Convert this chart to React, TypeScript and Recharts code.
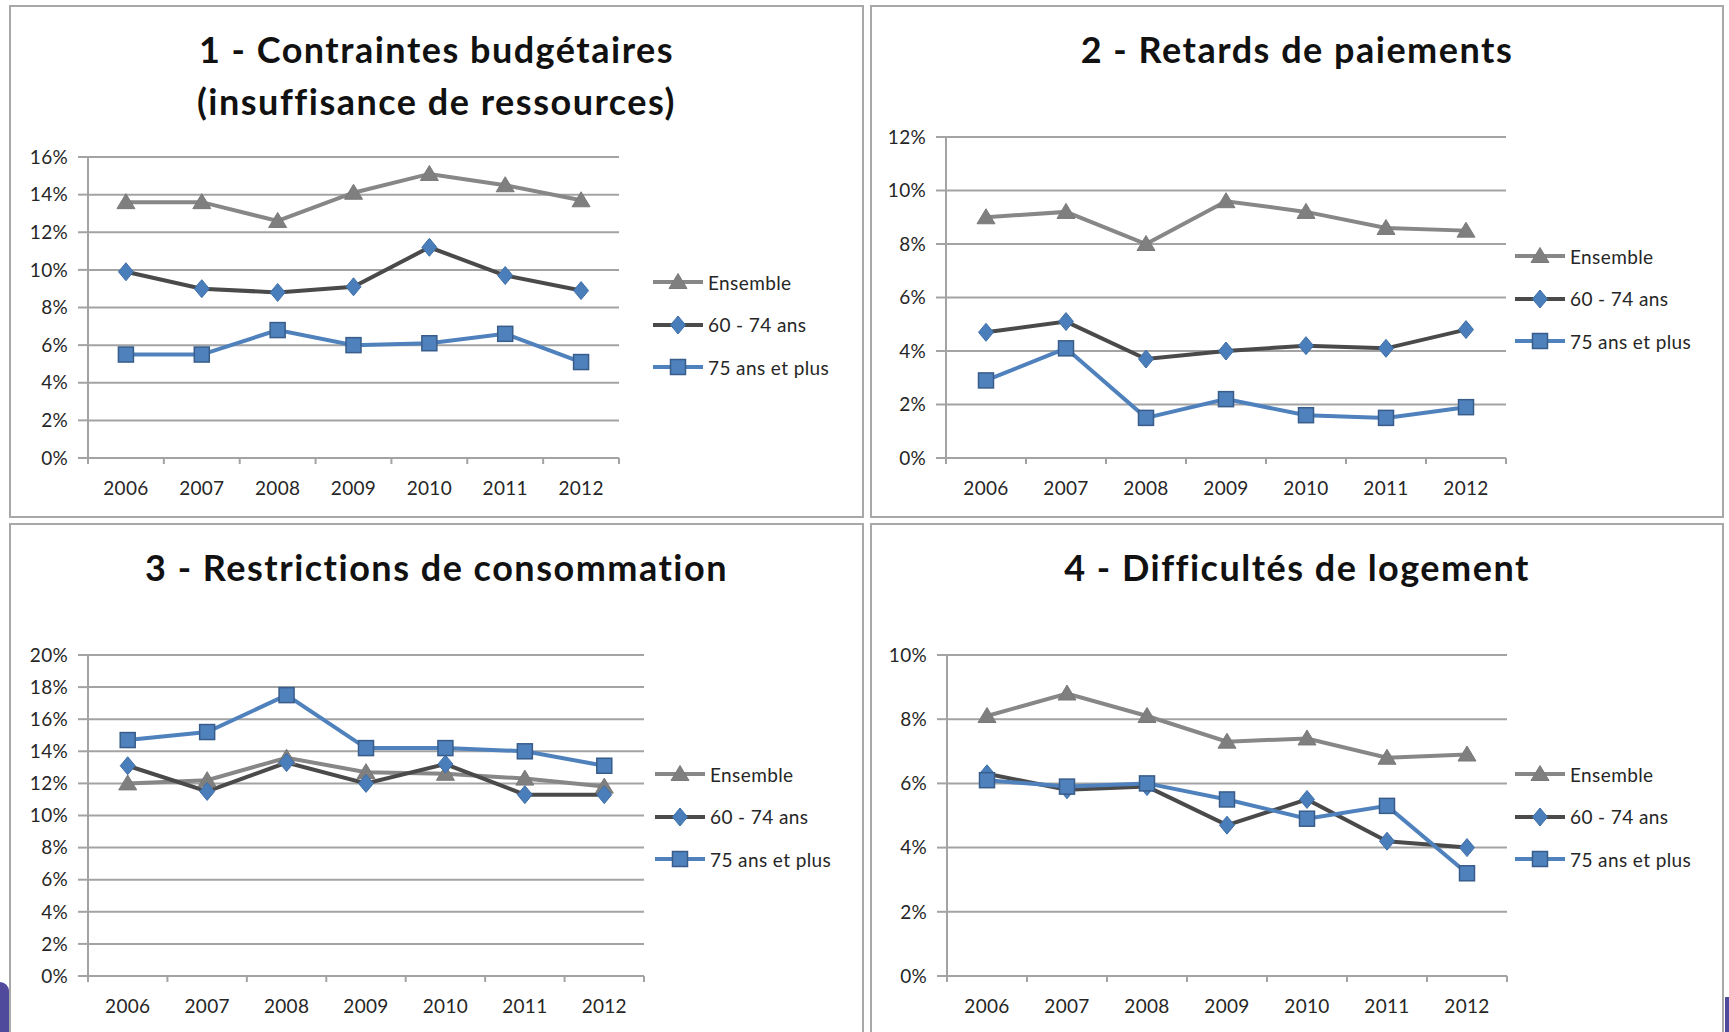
import React from 'react'
import { CartesianGrid, Legend, Line, LineChart, XAxis, YAxis } from 'recharts'

const years = ['2006', '2007', '2008', '2009', '2010', '2011', '2012']

// 1 - Contraintes budgétaires
const budgetEnsemble = [13.6, 13.6, 12.6, 14.1, 15.1, 14.5, 13.7]
const budget6074 = [9.9, 9.0, 8.8, 9.1, 11.2, 9.7, 8.9]
const budget75 = [5.5, 5.5, 6.8, 6.0, 6.1, 6.6, 5.1]
const budgetTicks = [0, 2, 4, 6, 8, 10, 12, 14, 16]

// 2 - Retards de paiements
const retardsEnsemble = [9.0, 9.2, 8.0, 9.6, 9.2, 8.6, 8.5]
const retards6074 = [4.7, 5.1, 3.7, 4.0, 4.2, 4.1, 4.8]
const retards75 = [2.9, 4.1, 1.5, 2.2, 1.6, 1.5, 1.9]
const retardsTicks = [0, 2, 4, 6, 8, 10, 12]

// 3 - Restrictions de consommation
const conso6074 = [13.1, 11.5, 13.3, 12.0, 13.2, 11.3, 11.3]
const consoEnsemble = [12.0, 12.2, 13.6, 12.7, 12.6, 12.3, 11.8]
const conso75 = [14.7, 15.2, 17.5, 14.2, 14.2, 14.0, 13.1]
const consoTicks = [0, 2, 4, 6, 8, 10, 12, 14, 16, 18, 20]

// 4 - Difficultés de logement
const logementEnsemble = [8.1, 8.8, 8.1, 7.3, 7.4, 6.8, 6.9]
const logement6074 = [6.3, 5.8, 5.9, 4.7, 5.5, 4.2, 4.0]
const logement75 = [6.1, 5.9, 6.0, 5.5, 4.9, 5.3, 3.2]
const logementTicks = [0, 2, 4, 6, 8, 10]

const edges = [-0.5, 0.5, 1.5, 2.5, 3.5, 4.5, 5.5, 6.5]

const GRID = '#a3a3a3'
const TEXT = '#262626'

type Shape = 'tri' | 'dia' | 'sq'

const SERIES: { key: 'ens' | 'a' | 'b'; name: string; color: string; shape: Shape }[] = [
  { key: 'ens', name: 'Ensemble', color: '#878787', shape: 'tri' },
  { key: 'a', name: '60 - 74 ans', color: '#4a4a4a', shape: 'dia' },
  { key: 'b', name: '75 ans et plus', color: '#4f81bd', shape: 'sq' },
]

function Marker({ shape, cx, cy }: { shape: Shape; cx: number; cy: number }) {
  if (cx == null || cy == null) return null
  if (shape === 'tri') {
    return (
      <polygon
        points={`${cx},${cy - 8.5} ${cx - 9},${cy + 6.5} ${cx + 9},${cy + 6.5}`}
        fill="#7f7f7f"
        stroke="#7a7a7a"
        strokeWidth={1}
      />
    )
  }
  if (shape === 'dia') {
    return (
      <polygon
        points={`${cx},${cy - 9} ${cx + 7.5},${cy} ${cx},${cy + 9} ${cx - 7.5},${cy}`}
        fill="#4a7ebb"
        stroke="#3f6fa8"
        strokeWidth={1}
      />
    )
  }
  return (
    <rect x={cx - 7.5} y={cy - 7.5} width={15} height={15} fill="#4f81bd" stroke="#385d8a" strokeWidth={1.5} />
  )
}

function LegendBox() {
  return (
    <div style={{ fontSize: 19, color: TEXT, lineHeight: 1, letterSpacing: 0.4 }}>
      {SERIES.map((s) => (
        <div key={s.key} style={{ display: 'flex', alignItems: 'center', height: 42.5 }}>
          <svg width={52} height={20}>
            <line x1={0} y1={10} x2={50} y2={10} stroke={s.color} strokeWidth={4} />
            <Marker shape={s.shape} cx={25} cy={10} />
          </svg>
          <span style={{ marginLeft: 3, whiteSpace: 'nowrap' }}>{s.name}</span>
        </div>
      ))}
    </div>
  )
}

function YearTick(props: any) {
  const { x, y, payload, half } = props
  const i = payload.value + 0.5
  if (i < 0 || i >= years.length) return null
  return (
    <text x={x + half} y={y} dy="0.71em" textAnchor="middle" fontSize={19} fill={TEXT} letterSpacing={0.3}>
      {years[i]}
    </text>
  )
}

type Panel = {
  title: string[]
  box: [number, number, number, number]
  titleTop: number
  plot: [number, number, number, number]
  ticks: number[]
  ens: number[]
  a: number[]
  b: number[]
  legend: [number, number]
}

const panels: Panel[] = [
  {
    title: ['1 - Contraintes budgétaires', '(insuffisance de ressources)'],
    box: [9, 5, 864, 518],
    titleTop: 23,
    plot: [88, 157, 619, 458],
    ticks: budgetTicks,
    ens: budgetEnsemble,
    a: budget6074,
    b: budget75,
    legend: [653, 282],
  },
  {
    title: ['2 - Retards de paiements'],
    box: [870, 5, 1724, 518],
    titleTop: 23,
    plot: [946, 137, 1506, 458],
    ticks: retardsTicks,
    ens: retardsEnsemble,
    a: retards6074,
    b: retards75,
    legend: [1515, 256],
  },
  {
    title: ['3 - Restrictions de consommation'],
    box: [9, 523, 864, 1060],
    titleTop: 541,
    plot: [88, 655, 644, 976],
    ticks: consoTicks,
    ens: consoEnsemble,
    a: conso6074,
    b: conso75,
    legend: [655, 774],
  },
  {
    title: ['4 - Difficultés de logement'],
    box: [870, 523, 1724, 1060],
    titleTop: 541,
    plot: [947, 655, 1507, 976],
    ticks: logementTicks,
    ens: logementEnsemble,
    a: logement6074,
    b: logement75,
    legend: [1515, 774],
  },
]

function ChartPanel({ p }: { p: Panel }) {
  const [L, T, R, B] = p.plot
  const left = L - 70
  const top = T - 20
  const data = years.map((y, i) => ({ x: i, year: y, ens: p.ens[i], a: p.a[i], b: p.b[i] }))
  const half = (R - L) / 14
  const max = p.ticks[p.ticks.length - 1]
  const [bx, by, br, bb] = p.box

  return (
    <>
      <div
        style={{
          position: 'absolute',
          left: bx,
          top: by,
          width: br - bx,
          height: bb - by,
          border: '2px solid #a8a8a8',
          boxSizing: 'border-box',
        }}
      />
      <div
        style={{
          position: 'absolute',
          left: bx,
          top: p.titleTop,
          width: br - bx,
          textAlign: 'center',
          fontSize: 36,
          fontWeight: 700,
          letterSpacing: 1.5,
          lineHeight: '52px',
          color: '#111',
        }}
      >
        {p.title.map((t) => (
          <div key={t}>{t}</div>
        ))}
      </div>
      <div style={{ position: 'absolute', left, top }}>
        <LineChart
          width={R - L + 80}
          height={B - T + 70}
          data={data}
          margin={{ top: 20, right: 10, bottom: 0, left: 10 }}
        >
          <CartesianGrid vertical={false} stroke={GRID} strokeWidth={2} />
          <XAxis
            type="number"
            dataKey="x"
            domain={[-0.5, 6.5]}
            ticks={edges}
            interval={0}
            height={50}
            tickSize={6}
            tickMargin={18}
            axisLine={{ stroke: GRID, strokeWidth: 2 }}
            tickLine={{ stroke: GRID, strokeWidth: 2 }}
            tick={<YearTick half={half} />}
          />
          <YAxis
            type="number"
            domain={[0, max]}
            ticks={p.ticks}
            interval={0}
            width={60}
            tickSize={10}
            tickMargin={10}
            axisLine={{ stroke: GRID, strokeWidth: 2 }}
            tickLine={{ stroke: GRID, strokeWidth: 2 }}
            tick={{ fontSize: 19, fill: TEXT, letterSpacing: 0.3 }}
            tickFormatter={(v: number) => `${v}%`}
          />
          {SERIES.map((s) => (
            <Line
              key={s.key}
              dataKey={s.key}
              name={s.name}
              stroke={s.color}
              strokeWidth={4}
              isAnimationActive={false}
              activeDot={false}
              dot={(d: any) => <Marker key={`${s.key}-${d.index}`} shape={s.shape} cx={d.cx} cy={d.cy} />}
            />
          ))}
          <Legend
            layout="vertical"
            align="center"
            verticalAlign="middle"
            content={() => <LegendBox />}
            wrapperStyle={{ left: p.legend[0] - left, top: p.legend[1] - top - 21.25, width: 240 }}
          />
        </LineChart>
      </div>
    </>
  )
}

export default function App() {
  return (
    <div
      style={{
        position: 'absolute',
        left: 0,
        top: 0,
        width: 1729,
        height: 1032,
        overflow: 'hidden',
        background: '#fff',
        fontFamily: 'Lato, "Open Sans", sans-serif',
      }}
    >
      {panels.map((p) => (
        <ChartPanel key={p.title[0]} p={p} />
      ))}
      <div
        style={{
          position: 'absolute',
          left: 0,
          top: 982,
          width: 9,
          height: 60,
          background: '#4f4a9b',
          borderTopRightRadius: 12,
        }}
      />
      <div
        style={{
          position: 'absolute',
          left: 1725,
          top: 997,
          width: 10,
          height: 40,
          background: '#4f4a9b',
        }}
      />
    </div>
  )
}
